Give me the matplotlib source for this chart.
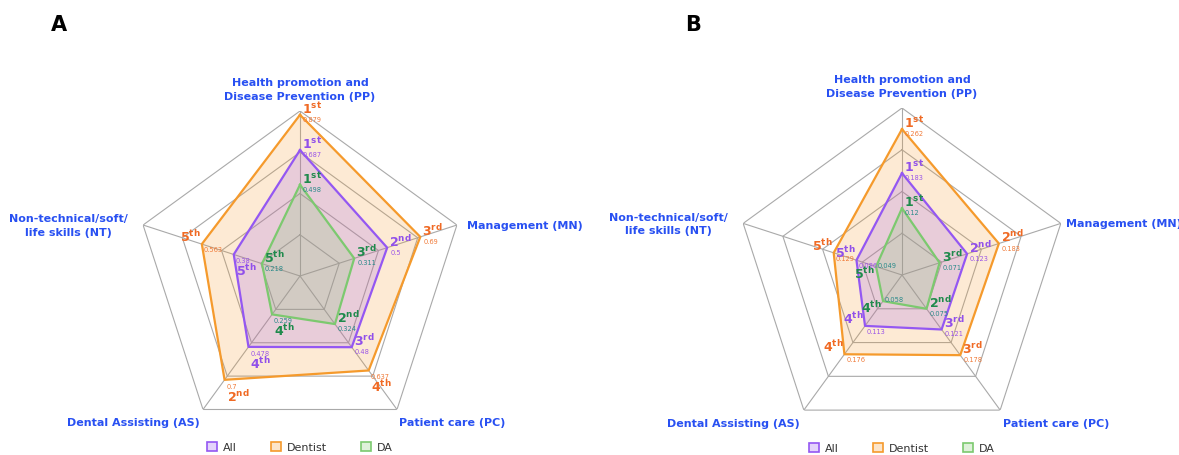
import numpy as np
import matplotlib
matplotlib.use("Agg")
import matplotlib.pyplot as plt
from matplotlib.patches import Patch

# ---- data -----------------------------------------------------------------
domains = ["Health promotion and\nDisease Prevention (PP)", "Management (MN)",
           "Patient care (PC)", "Dental Assisting (AS)",
           "Non-technical/soft/\nlife skills (NT)"]
groups = ["All", "Dentist", "DA"]

# panel A
a_all = [0.687, 0.5, 0.48, 0.478, 0.38]
a_dentist = [0.879, 0.69, 0.637, 0.7, 0.563]
a_da = [0.498, 0.311, 0.324, 0.259, 0.218]
a_rmax = 0.9

# panel B
b_all = [0.183, 0.123, 0.121, 0.113, 0.086]
b_dentist = [0.262, 0.183, 0.178, 0.176, 0.129]
b_da = [0.12, 0.071, 0.075, 0.058, 0.049]
b_rmax = 0.3

# ---- styling ----------------------------------------------------------------
line_col = {"All": "#9457f2", "Dentist": "#f59a2c", "DA": "#7cc96f"}
rank_col = {"All": "#9150ea", "Dentist": "#f06a24", "DA": "#1f8a4c"}
val_col = {"All": "#9a55e8", "Dentist": "#f07a38", "DA": "#2a8a8a"}
label_blue = "#2850f2"
grid_col = "#a9a9a9"
PX = 0.72  # points per pixel at 100 dpi

# label layout per group & domain: 'up' rank above, value below;
# 'down' value then rank underneath; 'left' rank left of vertex, value right;
# 'leftlow' rank lower-left, value to the right
offsets = {
    "up": ((2, -7, "left"), (3, 4, "left")),
    "down": ((2, 16, "left"), (2, 6, "left")),
    "left": ((-1, -8, "right"), (2, 5, "left")),
    "leftlow": ((-1, 6, "right"), (2, -2, "left")),
}
layout_a = {"All": ["up", "up", "up", "down", "down"],
            "Dentist": ["up", "up", "down", "down", "left"],
            "DA": ["up", "up", "up", "down", "up"]}
layout_b = {"All": ["up", "up", "up", "left", "left"],
            "Dentist": ["up", "up", "up", "left", "left"],
            "DA": ["up", "up", "up", "leftlow", "leftlow"]}

suffix = {1: "st", 2: "nd", 3: "rd", 4: "th", 5: "th"}

fig = plt.figure(figsize=(11.79, 4.56), dpi=100)

n = len(domains)
angles = np.arange(n) * 2 * np.pi / n
closed = np.append(angles, angles[0])


def radar(rect, series, rmax, layout, lab_off, letter, letter_xy):
    ax = fig.add_axes(rect, projection="polar")
    ax.set_theta_offset(np.pi / 2)
    ax.set_theta_direction(-1)
    ax.set_ylim(0, rmax)
    ax.axis("off")

    # pentagon web
    for r in np.linspace(rmax / 4, rmax, 4):
        ax.plot(closed, [r] * (n + 1), color=grid_col, lw=0.8, zorder=1)
    for a in angles:
        ax.plot([a, a], [0, rmax], color=grid_col, lw=0.8, zorder=1)

    for g in ["Dentist", "All", "DA"]:
        vals = np.array(series[g])
        vc = np.append(vals, vals[0])
        ax.fill(closed, vc, color=line_col[g], alpha=0.2, lw=0, zorder=2)
        ax.plot(closed, vc, color=line_col[g], lw=1.6, zorder=3)

    for g in ["Dentist", "All", "DA"]:
        vals = np.array(series[g])
        ranks = np.argsort(np.argsort(-vals)) + 1
        for i, (a, v, rk) in enumerate(zip(angles, vals, ranks)):
            (rx, ry, rha), (vx, vy, vha) = offsets[layout[g][i]]
            ax.annotate(rf"$\mathbf{{{rk}}}^{{\mathbf{{{suffix[rk]}}}}}$",
                        xy=(a, v), xytext=(rx * PX, -ry * PX),
                        textcoords="offset points", ha=rha, va="center",
                        fontsize=9, color=rank_col[g], zorder=5)
            ax.annotate(f"{v:g}", xy=(a, v), xytext=(vx * PX, -vy * PX),
                        textcoords="offset points", ha=vha, va="center",
                        fontsize=4.8, color=val_col[g], zorder=5)

    # domain labels
    spec = [((0, 10), "center", "bottom"), ((lab_off[0], 0), "left", "center"),
            ((lab_off[1], -8), "left", "top"), ((lab_off[2], -8), "right", "top"),
            ((lab_off[3], 0), "right", "center")]
    for a, name, (off, ha, va) in zip(angles, domains, spec):
        ax.annotate(name, xy=(a, rmax), xytext=(off[0] * PX, off[1] * PX),
                    textcoords="offset points", ha=ha, va=va,
                    multialignment="center", fontsize=8, fontweight="bold",
                    color=label_blue, linespacing=1.45, annotation_clip=False)

    handles = [Patch(facecolor=matplotlib.colors.to_rgba(line_col[g], 0.25),
                     edgecolor=line_col[g], lw=1.2) for g in groups]
    ax.legend(handles, groups, loc="center", bbox_to_anchor=(0.5, -0.018),
              ncol=3, frameon=False, fontsize=8, handlelength=0.9,
              handleheight=0.9, handletextpad=0.5, columnspacing=3.1,
              labelcolor="#333333")

    fig.text(letter_xy[0], letter_xy[1], letter, fontsize=15,
             fontweight="bold", ha="center", va="center")
    return ax


W, H = 1179, 456
rect_a = [(300 - 165) / W, (H - 277 - 165) / H, 330 / W, 330 / H]
rect_b = [(902 - 167) / W, (H - 276 - 167) / H, 334 / W, 334 / H]

radar(rect_a, {"All": a_all, "Dentist": a_dentist, "DA": a_da}, a_rmax,
      layout_a, (10, 2, -3, -15), "A", (59 / W, 1 - 25 / H))
radar(rect_b, {"All": b_all, "Dentist": b_dentist, "DA": b_da}, b_rmax,
      layout_b, (5, 3, -4, -15), "B", (693 / W, 1 - 25 / H))

fig.savefig("out.png", dpi=100)
